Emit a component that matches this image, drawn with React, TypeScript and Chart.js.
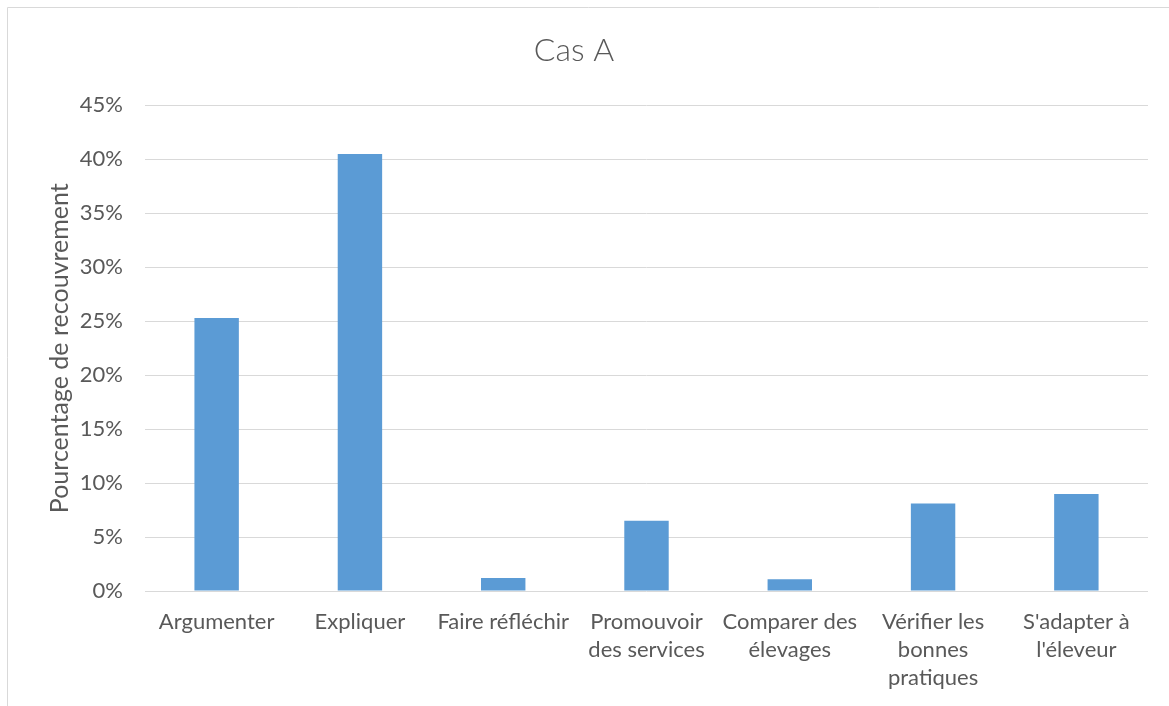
import React, { useEffect, useRef } from "react";
import { Chart, registerables } from "chart.js";

Chart.register(...registerables);

const categories: string[][] = [
  ["Argumenter"],
  ["Expliquer"],
  ["Faire réfléchir"],
  ["Promouvoir", "des services"],
  ["Comparer des", "élevages"],
  ["Vérifier les", "bonnes", "pratiques"],
  ["S'adapter à", "l'éleveur"],
];
const values: number[] = [25.3, 40.5, 1.2, 6.5, 1.1, 8.1, 9.0];
const chartTitle = "Cas A";
const yAxisTitle = "Pourcentage de recouvrement";

const FONT = "Lato, 'Noto Sans', sans-serif";
const TEXT = "#595959";
const GRID = "#d9d9d9";

const framePlugin = {
  id: "frame",
  beforeDraw(chart: any) {
    const ctx = chart.ctx;
    ctx.save();
    ctx.strokeStyle = GRID;
    ctx.lineWidth = 1;
    ctx.beginPath();
    ctx.moveTo(7.5, chart.height + 5);
    ctx.lineTo(7.5, 7.5);
    ctx.lineTo(chart.width + 5, 7.5);
    ctx.stroke();
    ctx.restore();
  },
};

export default function App() {
  const ref = useRef<HTMLCanvasElement | null>(null);
  useEffect(() => {
    if (!ref.current) return;
    const chart = new Chart(ref.current, {
      type: "bar",
      data: {
        labels: categories,
        datasets: [
          {
            data: values,
            backgroundColor: "#5b9bd5",
            categoryPercentage: 0.31,
            barPercentage: 1,
          },
        ],
      },
      options: {
        animation: false,
        responsive: false,
        layout: { padding: { left: 0, right: 21, top: 0, bottom: 0 } },
        plugins: {
          legend: { display: false },
          tooltip: { enabled: false },
          title: {
            display: true,
            text: chartTitle,
            color: TEXT,
            font: { family: FONT, size: 32, weight: 300 },
            padding: { top: 31, bottom: 36 },
          },
        },
        scales: {
          x: {
            grid: { display: false },
            border: { display: false },
            ticks: {
              color: TEXT,
              font: { family: FONT, size: 22, lineHeight: 1.27 },
              maxRotation: 0,
              autoSkip: false,
              padding: 9,
            },
            afterFit: (s: any) => {
              s.height = 115;
            },
          },
          y: {
            min: 0,
            max: 45,
            grid: { color: GRID, drawTicks: false },
            border: { display: false },
            ticks: {
              stepSize: 5,
              color: TEXT,
              font: { family: FONT, size: 22 },
              padding: 22,
              callback: (v: any) => `${v}%`,
            },
            title: {
              display: true,
              text: yAxisTitle,
              color: TEXT,
              font: { family: FONT, size: 25, weight: "normal" },
              padding: { top: 45, bottom: 0 },
            },
            afterFit: (s: any) => {
              s.width = 145;
            },
          },
        },
      },
      plugins: [framePlugin],
    });
    return () => chart.destroy();
  }, []);
  return (
    <div style={{ position: "fixed", left: 0, top: 0, width: 1169, height: 706, background: "#fff" }}>
      <canvas ref={ref} width={1169} height={706} style={{ width: 1169, height: 706, display: "block" }} />
    </div>
  );
}
